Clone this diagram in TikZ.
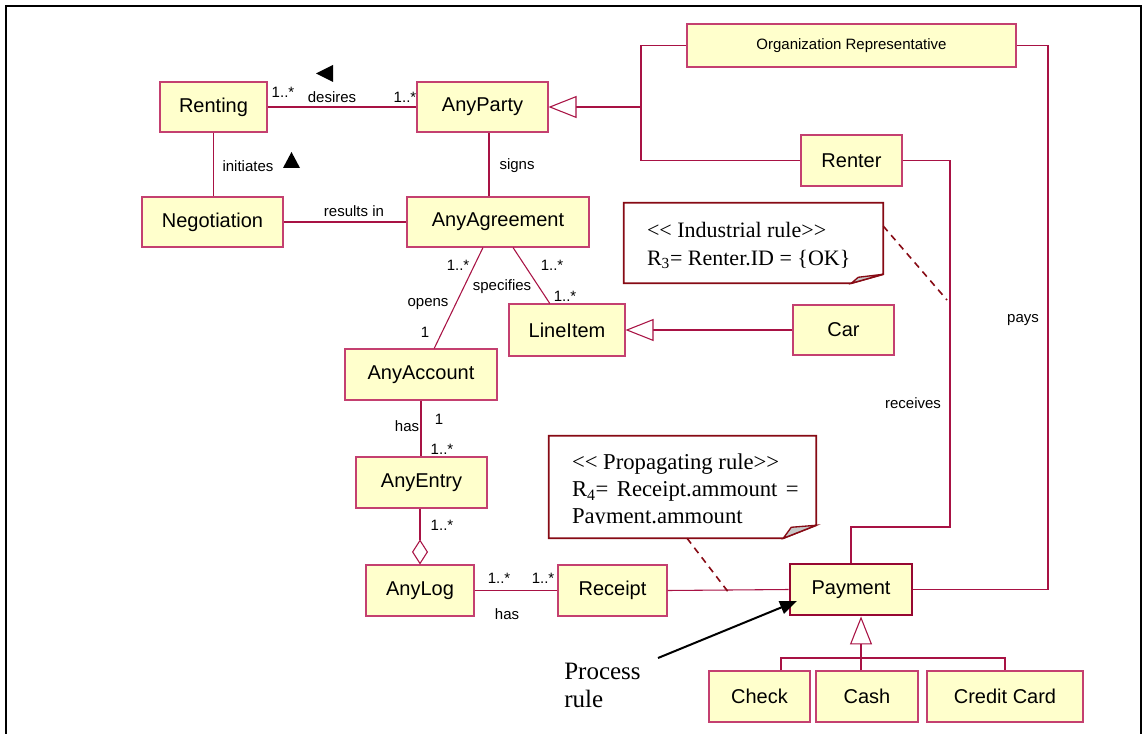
\documentclass[tikz,border=0pt]{standalone}
\usepackage{fontspec}
\setmainfont{Liberation Serif}[Ligatures=TeXOff]
\newfontfamily\arialfont{Liberation Sans}
\usetikzlibrary{arrows.meta,calc,fit}
\definecolor{umlline}{RGB}{168,18,68}
\definecolor{umlbox}{RGB}{196,64,112}
\definecolor{umlfill}{RGB}{255,255,204}
\definecolor{payline}{RGB}{150,8,50}
\definecolor{noteline}{RGB}{135,10,20}
\begin{document}
\begin{tikzpicture}[x=0.75pt,y=-0.75pt,
  % a class box given by its left, top, right and bottom edges
  span/.style n args={4}{minimum width={(#3-#1)*0.75pt}, minimum height={(#4-#2)*0.75pt},
    at={({(#1+#3)/2},{(#2+#4)/2})}},
  cls/.style={draw=umlbox, fill=umlfill, line width=0.8pt, inner sep=0pt,
    font=\arialfont\fontsize{15}{18}\selectfont},
  smallcls/.style={cls, font=\arialfont\fontsize{11.25}{13}\selectfont},
  assoc/.style={draw=umlline, line width=0.8pt},
  gen/.style={assoc, -{Triangle[open, length=21pt, width=16.5pt, fill=white]}},
  agg/.style={assoc, -{Diamond[open, length=18.75pt, width=12pt, fill=white]}},
  lbl/.style={font=\arialfont\fontsize{11.25}{13}\selectfont, inner sep=0pt},
  notebox/.style={draw=noteline, fill=white, line width=1.3pt},
  notetxt/.style={inner sep=0pt, align=left},
  anchorline/.style={draw=noteline, line width=1.2pt, dash pattern=on 5pt off 4pt},
  fold/.style={fill=black!22, draw=noteline, line width=1pt}
]
\useasboundingbox (0,0) rectangle (1148,734);
\fill[white] (0,0) rectangle (1148,734);
% outer frame
\draw[line width=1.7pt] (6,734) -- (6,6) -- (1141,6) -- (1141,734);

% classes
\node[cls, span={160}{82}{267}{132}] (renting) {Renting};
\node[cls, span={417}{82}{548}{132}] (anyparty) {AnyParty};
\node[cls, span={142}{197}{283}{247}] (negotiation) {Negotiation};
\node[cls, span={407}{197}{589}{247}] (agreement) {AnyAgreement};
\node[smallcls, span={687}{24}{1016}{67}] (orgrep) {Organization Representative};
\node[cls, span={801}{135}{902}{186}] (renter) {Renter};
\node[cls, span={509}{304}{625}{356}] (lineitem) {LineItem};
\node[cls, span={793}{305}{894}{355}] (car) {Car};
\node[cls, span={345}{349}{497}{400}] (account) {AnyAccount};
\node[cls, span={356}{457}{487}{508}] (entry) {AnyEntry};
\node[cls, span={366}{565}{474}{616}] (log) {AnyLog};
\node[cls, span={558}{565}{667}{616}] (receipt) {Receipt};
\node[cls, draw=payline, line width=2.2pt, span={790}{564}{912}{615}] (payment) {Payment};
\node[cls, span={709}{671}{810}{722}] (check) {Check};
\node[cls, span={816}{671}{918}{722}] (cash) {Cash};
\node[cls, span={927}{671}{1083}{722}] (credit) {Credit Card};

% bend and junction points
\coordinate (signtop) at ($(anyparty.south west)!0.55!(anyparty.south east)$);
\coordinate (opentop) at ($(agreement.south west)!0.418!(agreement.south east)$);
\coordinate (openbot) at ($(account.north west)!0.586!(account.north east)$);
\coordinate (spectop) at ($(agreement.south west)!0.582!(agreement.south east)$);
\coordinate (specbot) at ($(lineitem.north west)!0.353!(lineitem.north east)$);
\coordinate (trunk) at (641,107);
\coordinate (rcv) at (950,527);
\coordinate (pay) at (1048,300);
\coordinate (gj) at (861,658);
\coordinate (gl) at (781,658);
\coordinate (gr) at (1005,658);

% associations
\draw[assoc] (renting.east) -- (anyparty.west);
\draw[assoc] (renting.south) -- (renting.south |- negotiation.north);
\draw[assoc, line width=1.3pt] (signtop) -- (signtop |- agreement.north);
\draw[assoc] (negotiation.east) -- (agreement.west);
\draw[assoc] (opentop) -- (openbot);
\draw[assoc] (spectop) -- (specbot);
\draw[assoc] (account.south) -- (account.south |- entry.north);
\draw[agg] (log.north |- entry.south) -- (log.north);
\draw[assoc] (log.east) -- (receipt.west);
\draw[assoc] (receipt.east) -- (payment.west);
\draw[assoc] (renter.east) -| (rcv) -| (payment.north);
\draw[assoc] (orgrep.east) -| (pay) |- (payment.east);

% generalizations
\draw[gen] (car.west) -- (lineitem.east);
\draw[assoc] (orgrep.west) -| (trunk) |- (renter.west);
\draw[gen] (trunk) -- (trunk -| anyparty.east);
\draw[gen] (gj) -- (gj |- payment.south);
\draw[assoc] (gl |- check.north) -- (gl) -- (gr) -- (gr |- credit.north);
\draw[assoc] (gj |- cash.north) -- (gj);

% reading-direction markers
\fill (333,65) -- (316,73.5) -- (333,82) -- cycle;
\fill (283,168) -- (291.5,152) -- (300,168) -- cycle;

% association labels and multiplicities
\node[lbl] (m1) at (283,92) {1..*};
\node[lbl] (desires) at (332,97) {desires};
\node[lbl] (m2) at (405,97) {1..*};
\node[lbl] (initiates) at (248,166) {initiates};
\node[lbl] (signs) at (517,166) {signs};
\node[lbl] (results) at (354,211) {results in};
\node[lbl] (m3) at (458,265) {1..*};
\node[lbl] (m4) at (552,265) {1..*};
\node[lbl] (specifies) at (502,287) {specifies};
\node[lbl] (opens) at (428,304) {opens};
\node[lbl] (m5) at (425,332) {1};
\node[lbl] (m6) at (565,296) {1..*};
\node[lbl] (has1) at (407,426) {has};
\node[lbl] (m7) at (439,419) {1};
\node[lbl] (m8) at (442,449) {1..*};
\node[lbl] (m9) at (442,525) {1..*};
\node[lbl] (m10) at (499,578) {1..*};
\node[lbl] (m11) at (543,578) {1..*};
\node[lbl] (has2) at (507,614) {has};
\node[lbl] (receives) at (913,403) {receives};
\node[lbl] (pays) at (1023,320) {pays};

% industrial rule note
\node[fit={(624,203)(883,283)}, inner sep=0pt] (rule3) {};
\draw[notebox] (rule3.north west) -- (rule3.north east) -- ($(rule3.south east)+(0,-9)$)
  -- ($(rule3.south east)+(-32,0)$) -- (rule3.south west) -- cycle;
\filldraw[fold] ($(rule3.south east)+(-32,0)$) -- ($(rule3.south east)+(-25,-6)$)
  -- ($(rule3.south east)+(0,-9)$) -- cycle;
\node[notetxt, anchor=north west, font=\fontsize{16.5}{21}\selectfont] (rule3text)
  at ($(rule3.north west)+(23,19)$)
  {<< Industrial rule>>\\R\textsubscript{3}= Renter.ID = \{OK\}};
\coordinate (rule3end) at (947,300);
\draw[anchorline] ($(rule3.north east)!0.29!(rule3.south east)$) -- (rule3end);

% propagating rule note
\node[fit={(549,436)(816,538)}, inner sep=0pt] (rule4) {};
\draw[notebox] (rule4.north west) -- (rule4.north east) -- ($(rule4.south east)+(0,-13)$)
  -- ($(rule4.south east)+(-33,0)$) -- (rule4.south west) -- cycle;
\filldraw[fold] ($(rule4.south east)+(-33,0)$) -- ($(rule4.south east)+(-25,-11)$)
  -- ($(rule4.south east)+(0,-13)$) -- cycle;
\begin{scope}
  \clip (549,436) rectangle (816,523);
  \node[notetxt, anchor=north west, font=\fontsize{17}{20.25}\selectfont] (rule4text)
    at ($(rule4.north west)+(23,18)$)
    {<< Propagating rule>>\\\makebox[170pt][s]{R\textsubscript{4}=\hfill Receipt.ammount\hfill =}\\Payment.ammount};
\end{scope}
\coordinate (rule4end) at (729,593);
\draw[anchorline] ($(rule4.south west)!0.517!(rule4.south east)$) -- (rule4end);

% process rule pointer
\node[notetxt, anchor=north west, font=\fontsize{18.75}{21}\selectfont] (proc) at (564,663) {Process\\rule};
\coordinate (procstart) at (658,658);
\coordinate (proctip) at (797,601);
\draw[-{Triangle[length=12.75pt, width=10pt]}, line width=1.5pt] (procstart) -- (proctip);
\end{tikzpicture}
\end{document}
